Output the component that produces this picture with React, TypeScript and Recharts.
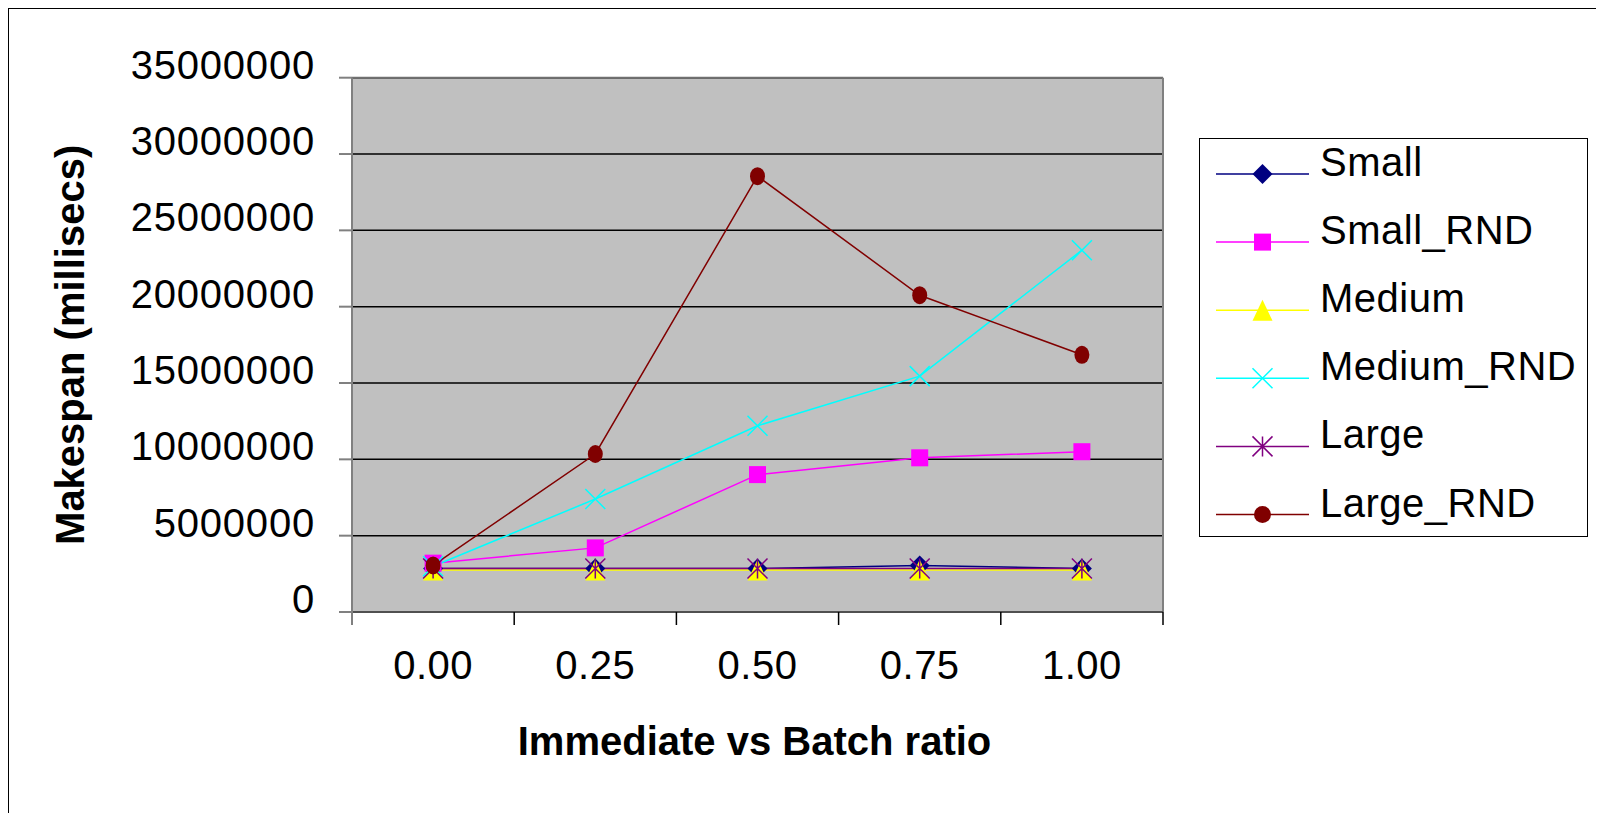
import React from 'react';
import { LineChart, Line, XAxis, YAxis, CartesianGrid, Legend, ReferenceLine } from 'recharts';

const FONT = '"Liberation Sans", Arial, sans-serif';

// x categories (immediate vs batch ratio)
const categories = ['0.00', '0.25', '0.50', '0.75', '1.00'];

// makespan values, millisecs
const small = [2850000, 2850000, 2850000, 3050000, 2850000];
const smallRnd = [3200000, 4200000, 9000000, 10100000, 10500000];
const medium = [2750000, 2750000, 2750000, 2750000, 2750000];
const mediumRnd = [3000000, 7400000, 12200000, 15450000, 23700000];
const large = [2850000, 2850000, 2850000, 2850000, 2850000];
const largeRnd = [3050000, 10350000, 28550000, 20750000, 16850000];

const yTicks = [0, 5000000, 10000000, 15000000, 20000000, 25000000, 30000000, 35000000];

const series = [
    { name: 'Small', values: small, color: '#000080', shape: 'diamond' },
    { name: 'Small_RND', values: smallRnd, color: '#FF00FF', shape: 'square' },
    { name: 'Medium', values: medium, color: '#FFFF00', shape: 'triangle' },
    { name: 'Medium_RND', values: mediumRnd, color: '#00FFFF', shape: 'cross' },
    { name: 'Large', values: large, color: '#800080', shape: 'star' },
    { name: 'Large_RND', values: largeRnd, color: '#800000', shape: 'circle' },
];

const rows = categories.map((c, i) => {
    const row: any = { x: i, label: c };
    series.forEach(s => { row[s.name] = s.values[i]; });
    return row;
});

// category boundaries get tick marks, centres get labels
const xTicks = categories.flatMap((_, i) => [i - 0.5, i]).concat(categories.length - 0.5);

const Marker = ({ shape, cx, cy, color, legend }: any) => {
    if (cx == null || cy == null) return null;
    switch (shape) {
        case 'diamond':
            return <polygon points={`${cx},${cy - 10} ${cx + 10},${cy} ${cx},${cy + 10} ${cx - 10},${cy}`} fill={color} />;
        case 'square':
            return <rect x={cx - 8.5} y={cy - 8.5} width={17} height={17} fill={color} />;
        case 'triangle':
            return <polygon points={`${cx},${cy - 10.5} ${cx + 10},${cy + 10.5} ${cx - 10},${cy + 10.5}`} fill={color} />;
        case 'cross':
            return <path d={`M${cx - 10},${cy - 10}L${cx + 10},${cy + 10}M${cx + 10},${cy - 10}L${cx - 10},${cy + 10}`} stroke={color} strokeWidth={1.5} />;
        case 'star':
            return <path d={`M${cx - 10},${cy - 10}L${cx + 10},${cy + 10}M${cx + 10},${cy - 10}L${cx - 10},${cy + 10}M${cx},${cy - 10}L${cx},${cy + 10}`} stroke={color} strokeWidth={1.5} />;
        case 'circle':
            return legend
                ? <circle cx={cx} cy={cy} r={8.5} fill={color} />
                : <ellipse cx={cx} cy={cy} rx={7.5} ry={9} fill={color} />;
        default:
            return null;
    }
};

const XTick = ({ x, y, payload }: any) => {
    const v = payload.value;
    if (Number.isInteger(v)) {
        return <text x={x} y={y + 54} textAnchor="middle" fontSize={40} letterSpacing={0.5} fontFamily={FONT} fill="#000">{categories[v]}</text>;
    }
    return <line x1={x} x2={x} y1={y - 13} y2={y} stroke={v < 0 ? '#808080' : '#000'} strokeWidth={v < 0 ? 2 : 1.5} />;
};

const YTick = ({ x, y, payload }: any) => (
    <text x={x + 2} y={y + 1} textAnchor="end" fontSize={40} letterSpacing={0.8} fontFamily={FONT} fill="#000">{payload.value}</text>
);

const YTitle = ({ viewBox }: any) => {
    const cy = viewBox.y + viewBox.height / 2;
    return (
        <text x={75} y={cy} transform={`rotate(-90, 75, ${cy})`} textAnchor="middle" fontSize={40} fontWeight="bold" fontFamily={FONT} fill="#000">
            Makespan (millisecs)
        </text>
    );
};

const XTitle = ({ viewBox }: any) => (
    <text x={viewBox.x + viewBox.width / 2 - 3} y={viewBox.y + 143} textAnchor="middle" fontSize={40} fontWeight="bold" fontFamily={FONT} fill="#000">
        Immediate vs Batch ratio
    </text>
);

const LegendBox = () => (
    <svg width={389} height={399} style={{ display: 'block' }}>
        <rect x={0.5} y={0.5} width={388} height={398} fill="#fff" stroke="#000" strokeWidth={1} />
        {series.map((s, i) => {
            const y = 36 + i * 68.1;
            return (
                <g key={s.name}>
                    <line x1={17} x2={110} y1={y} y2={y} stroke={s.color} strokeWidth={1.5} />
                    <Marker shape={s.shape} cx={63.5} cy={y} color={s.color} legend />
                    <text x={121} y={y + 2} fontSize={40} letterSpacing={0.5} fontFamily={FONT} fill="#000">{s.name}</text>
                </g>
            );
        })}
    </svg>
);

export default function App() {
    return (
        <div style={{ width: 1588, height: 805, boxSizing: 'border-box', borderTop: '1px solid #000', borderLeft: '1px solid #000', fontFamily: FONT }}>
            <LineChart width={1587} height={804} data={rows} margin={{ top: 68.7, right: 433, bottom: 0, left: 0 }}>
                <CartesianGrid vertical={false} stroke="#000" strokeWidth={1.5} fill="#C0C0C0" fillOpacity={1} />
                <XAxis
                    type="number"
                    dataKey="x"
                    domain={[-0.5, categories.length - 0.5]}
                    ticks={xTicks}
                    interval={0}
                    tickLine={false}
                    tickSize={13}
                    tickMargin={0}
                    axisLine={{ stroke: '#505050', strokeWidth: 2 }}
                    height={201}
                    tick={<XTick />}
                    label={<XTitle />}
                />
                <YAxis
                    type="number"
                    domain={[0, 35000000]}
                    ticks={yTicks}
                    interval={0}
                    width={343}
                    tickSize={13}
                    tickMargin={26}
                    tickLine={{ stroke: '#808080', strokeWidth: 2 }}
                    axisLine={{ stroke: '#808080', strokeWidth: 2 }}
                    tick={<YTick />}
                    label={<YTitle />}
                />
                <ReferenceLine y={35000000} stroke="#707070" strokeWidth={2} />
                <ReferenceLine x={categories.length - 0.5} stroke="#808080" strokeWidth={2} />
                <Legend
                    layout="vertical"
                    align="center"
                    verticalAlign="middle"
                    content={<LegendBox />}
                    wrapperStyle={{ left: 1190, top: 129, width: 389, height: 399 }}
                />
                {series.map(s => (
                    <Line
                        key={s.name}
                        type="linear"
                        dataKey={s.name}
                        stroke={s.color}
                        strokeWidth={1.5}
                        dot={(p: any) => <Marker key={`${s.name}-${p.index}`} shape={s.shape} cx={p.cx} cy={p.cy} color={s.color} />}
                        activeDot={false}
                        isAnimationActive={false}
                    />
                ))}
            </LineChart>
        </div>
    );
}
